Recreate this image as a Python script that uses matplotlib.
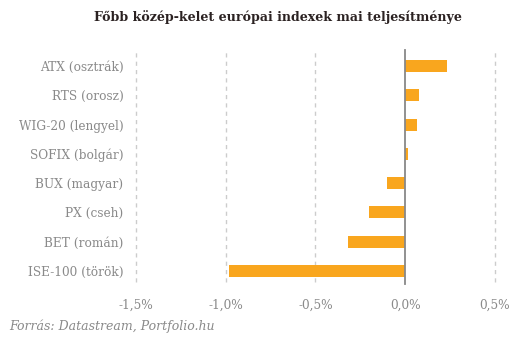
import matplotlib
matplotlib.use("Agg")
import matplotlib.pyplot as plt
from matplotlib.ticker import FuncFormatter

categories = ["ATX (osztrák)", "RTS (orosz)", "WIG-20 (lengyel)", "SOFIX (bolgár)",
              "BUX (magyar)", "PX (cseh)", "BET (román)", "ISE-100 (török)"]
values = [0.23, 0.078, 0.067, 0.015, -0.10, -0.20, -0.32, -0.98]
xticks = [-1.5, -1.0, -0.5, 0.0, 0.5]

title = "Főbb közép-kelet európai indexek mai teljesítménye"
source = "Forrás: Datastream, Portfolio.hu"

bar_color = "#F9A61E"
text_gray = "#8a8a8a"

fig = plt.figure(figsize=(5.3, 3.41), dpi=100)
ax = fig.add_axes([136/530, 1-282/341, (495-136)/530, (282-50)/341])

y = list(range(len(categories)))
ax.barh(y, values, height=0.41, color=bar_color, zorder=3)
ax.set_yticks(y)
ax.set_yticklabels(categories)
ax.set_ylim(len(categories)-1+0.38, -0.55)
ax.set_xlim(-1.5, 0.5)
ax.set_xticks(xticks)
ax.xaxis.set_major_formatter(FuncFormatter(lambda v, p: f"{v:.1f}%".replace(".", ",")))

for xv in xticks:
    if xv == 0:
        ax.axvline(0, color="#888888", lw=1.3, zorder=4, ymin=-0.01, clip_on=False)
    else:
        ax.axvline(xv, color="#cccccc", lw=1, ls=(0, (3, 3)), zorder=1, clip_on=False)

for s in ax.spines.values():
    s.set_visible(False)
ax.tick_params(axis="both", length=0, colors=text_gray, labelsize=8.7)
ax.tick_params(axis="y", pad=9)
ax.tick_params(axis="x", pad=12)
for lab in ax.get_xticklabels() + ax.get_yticklabels():
    lab.set_family("DejaVu Serif")
    lab.set_color(text_gray)

fig.text(278/530, 1-17/341, title, ha="center", va="center", fontsize=9.1,
         fontweight="bold", family="DejaVu Serif", color="#2b2222")
fig.text(9/530, 1-326/341, source, ha="left", va="center", fontsize=9,
         style="italic", family="DejaVu Serif", color=text_gray)

fig.savefig("out.png", dpi=100)
